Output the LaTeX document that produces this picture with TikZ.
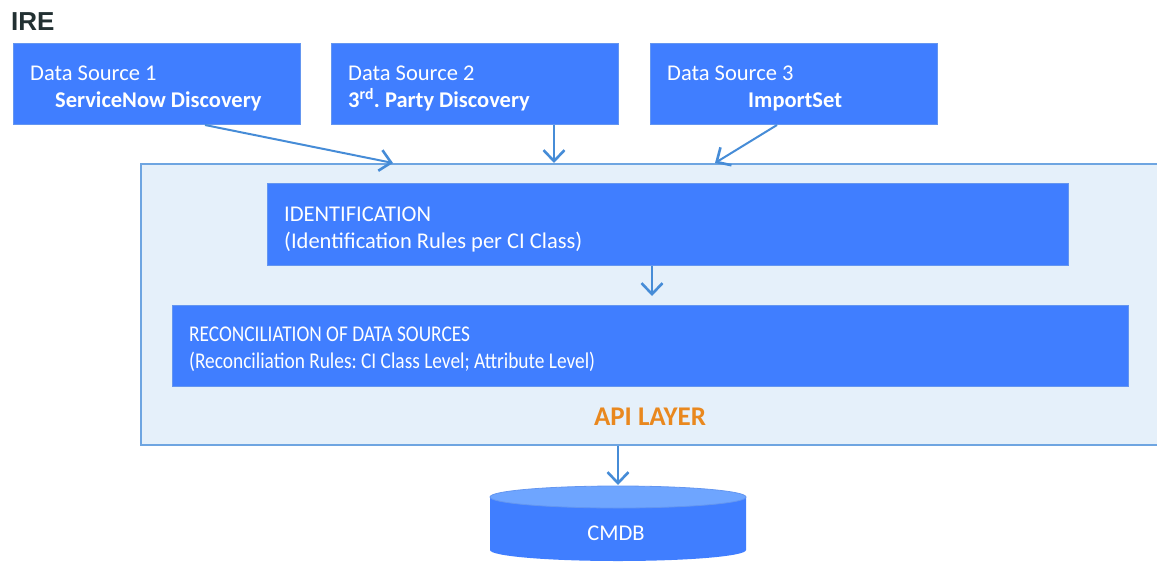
\documentclass[tikz,border=0pt]{standalone}
\usepackage{fontspec}
\setmainfont{Carlito}
\newfontfamily\titlefont{Liberation Sans}
\usetikzlibrary{arrows.meta,calc}
\definecolor{boxblue}{RGB}{64,126,255}
\definecolor{boxedge}{RGB}{100,150,240}
\definecolor{layerfill}{RGB}{229,240,250}
\definecolor{layeredge}{RGB}{110,165,225}
\definecolor{arrowblue}{RGB}{70,140,215}
\definecolor{apiorange}{RGB}{233,136,30}
\definecolor{titlegray}{RGB}{34,48,50}
\definecolor{cyltop}{RGB}{110,165,255}
\frenchspacing
\tikzset{
  bluebox/.style={draw=boxedge, fill=boxblue, line width=1pt, inner sep=0pt, anchor=north west},
  layerbox/.style={draw=layeredge, fill=layerfill, line width=1.5pt, inner sep=0pt, anchor=north west},
  txt/.style={text=white, anchor=base west, inner sep=0pt, font=\fontsize{22.5}{24}\selectfont},
  btxt/.style={txt, font=\fontsize{22.5}{24}\selectfont\bfseries},
  arr/.style={draw=arrowblue, line width=2pt, -{Straight Barb[length=11pt,width=21pt,line width=2.6pt]}},
}
\begin{document}
\begin{tikzpicture}[x=1pt,y=-1pt]
\useasboundingbox (0,0) rectangle (1157,563);
\node[anchor=base west, inner sep=0pt, text=titlegray, font=\titlefont\fontsize{26}{27}\selectfont\bfseries] (title) at (11,30) {IRE};

% data sources
\node[bluebox, minimum width=287pt, minimum height=81pt] (ds1) at (13,43) {};
\node[bluebox, minimum width=287pt, minimum height=81pt] (ds2) at (331,43) {};
\node[bluebox, minimum width=287pt, minimum height=81pt] (ds3) at (650,43) {};
\node[txt] (ds1a) at (30,80) {Data Source 1};
\node[btxt] (ds1b) at (55,107) {ServiceNow Discovery};
\node[txt] (ds2a) at (348,80) {Data Source 2};
\node[btxt] (ds2b) at (348,107) {3\textsuperscript{rd}. Party Discovery};
\node[txt] (ds3a) at (667,80) {Data Source 3};
\node[btxt] (ds3b) at (748,107) {ImportSet};

% api layer
\node[layerbox, minimum width=1030pt, minimum height=281pt] (api) at (140,163) {};
\node[bluebox, minimum width=801pt, minimum height=82pt] (ident) at (267,183) {};
\node[txt] (identa) at (284,221) {IDENTIFICATION};
\node[txt] (identb) at (284,248) {(Identification Rules per CI Class)};
\node[bluebox, minimum width=956pt, minimum height=81pt] (recon) at (172,305) {};
\node[txt] (recona) at (189,341.5) {\scalebox{0.86}[1]{RECONCILIATION OF DATA SOURCES}};
\node[txt] (reconb) at (189,368) {\scalebox{0.86}[1]{(Reconciliation Rules: CI Class Level; Attribute Level)}};
\node[anchor=center, inner sep=0pt, text=apiorange, font=\fontsize{27}{28}\selectfont\bfseries] (apilabel) at (650,417) {API LAYER};

% CMDB cylinder
\fill[boxblue] (490,497) -- (490,550) arc[start angle=180, end angle=360, x radius=128pt, y radius=11pt] -- (746,497) -- cycle;
\draw[boxedge, line width=0.8pt, fill=cyltop] (618,497) ellipse[x radius=128pt, y radius=11pt];
\coordinate (cmdbtop) at (618,485);
\node[text=white, inner sep=0pt, font=\fontsize{22.5}{24}\selectfont] (cmdb) at (616,533) {CMDB};

% connectors
\draw[arr] (ds1.south -| 205,0) -- (api.north -| 393,0);
\draw[arr] (ds2.south -| 554,0) -- (api.north -| 554,0);
\draw[arr] (ds3.south -| 777,0) -- (api.north -| 715,0);
\draw[arr] (ident.south -| 652,0) -- (652,296);
\draw[arr] (api.south -| 618,0) -- (cmdbtop);
\end{tikzpicture}
\end{document}
